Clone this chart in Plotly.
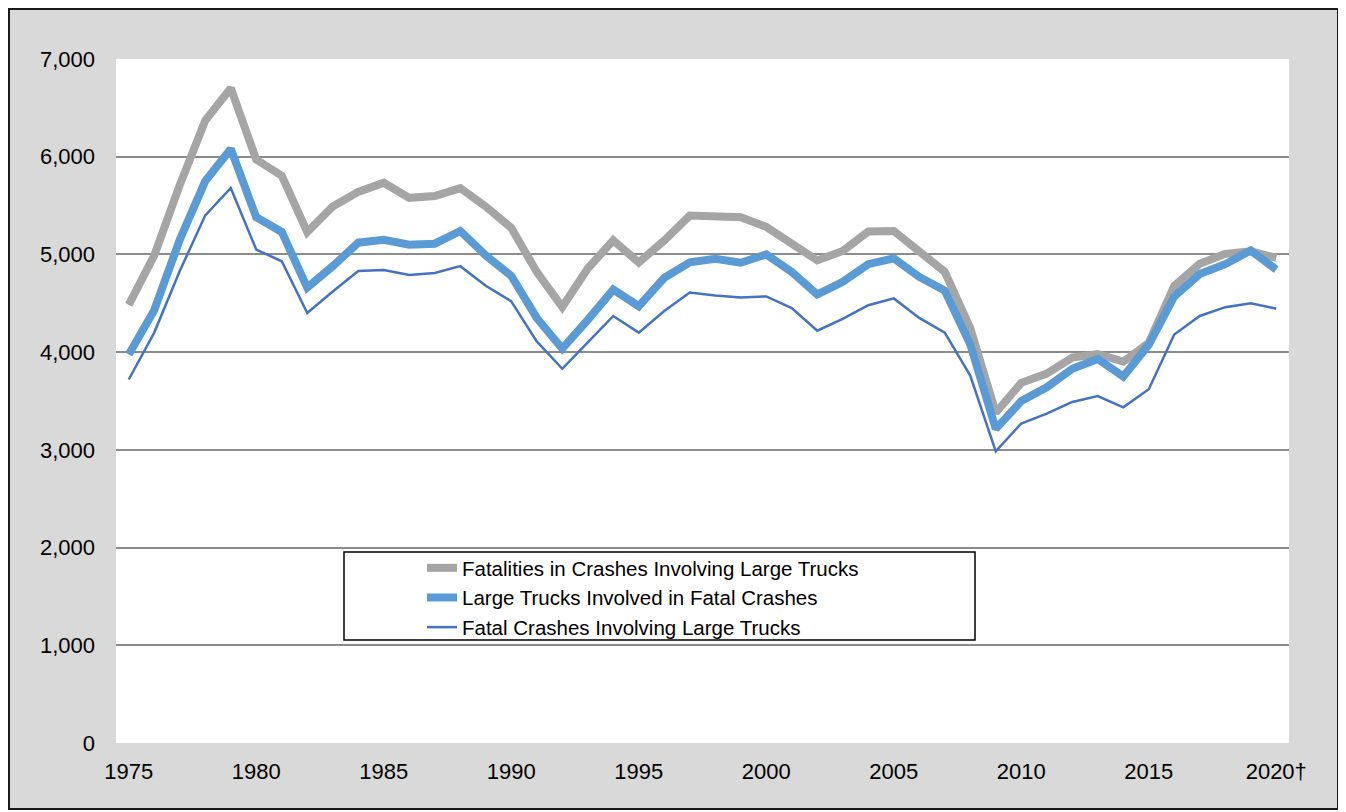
import plotly.graph_objects as go

years = list(range(1975, 2021))

fatalities = [
    4483, 4990, 5710, 6370, 6702, 5971, 5806, 5229, 5491, 5640,
    5734, 5579, 5598, 5679, 5490, 5272, 4821, 4462, 4856, 5144,
    4918, 5142, 5398, 5395, 5380, 5282, 5111, 4939, 5036, 5235,
    5240, 5027, 4822, 4245, 3380, 3686, 3781, 3944, 3981, 3903,
    4094, 4678, 4905, 5006, 5032, 4965,
]
trucks_involved = [
    3975, 4430, 5150, 5750, 6080, 5380, 5230, 4660, 4880, 5120,
    5150, 5100, 5110, 5240, 4990, 4780, 4350, 4035, 4330, 4640,
    4470, 4760, 4920, 4955, 4915, 5000, 4820, 4590, 4720, 4900,
    4960, 4770, 4630, 4080, 3215, 3500, 3640, 3830, 3930, 3750,
    4075, 4570, 4800, 4900, 5040, 4845,
]
fatal_crashes = [
    3720, 4200, 4830, 5400, 5680, 5050, 4930, 4400, 4620, 4830,
    4840, 4790, 4810, 4880, 4680, 4520, 4110, 3830, 4100, 4370,
    4200, 4420, 4610, 4580, 4560, 4570, 4450, 4220, 4340, 4480,
    4550, 4350, 4200, 3760, 2985, 3270, 3370, 3490, 3550, 3435,
    3620, 4180, 4370, 4460, 4500, 4445,
]

x_tick_vals = [1975, 1980, 1985, 1990, 1995, 2000, 2005, 2010, 2015, 2020]
x_tick_text = ["1975", "1980", "1985", "1990", "1995", "2000", "2005", "2010", "2015", "2020†"]
y_tick_vals = [0, 1000, 2000, 3000, 4000, 5000, 6000, 7000]

font = "Liberation Sans, Arial, sans-serif"

fig = go.Figure()
fig.add_trace(go.Scatter(
    x=years, y=fatalities, mode="lines",
    name="Fatalities in Crashes Involving Large Trucks",
    line=dict(color="#a5a5a5", width=8),
))
fig.add_trace(go.Scatter(
    x=years, y=trucks_involved, mode="lines",
    name="Large Trucks Involved in Fatal Crashes",
    line=dict(color="#5b9bd5", width=8),
))
fig.add_trace(go.Scatter(
    x=years, y=fatal_crashes, mode="lines",
    name="Fatal Crashes Involving Large Trucks",
    line=dict(color="#4472c4", width=2.5),
))

# the page body adds an 8px offset, so the figure is a bit smaller than the window
OFF = 8
W, H = 1346 - OFF, 812 - OFF
# plot area on screen: left 116, right 1289, top 59, bottom 743
ml, mt = 116 - OFF, 59 - OFF
mr, mb = W - (1289 - OFF), H - (743 - OFF)
pw, ph = W - ml - mr, H - mt - mb


def px_x(p):
    return (p - 116) / pw


def px_y(p):
    return (743 - p) / ph


# grey outer frame
fig.add_shape(
    type="rect", xref="paper", yref="paper", layer="below",
    x0=px_x(OFF + 1), x1=px_x(1338), y0=px_y(809), y1=px_y(OFF + 1),
    fillcolor="#d9d9d9", line=dict(color="#1a1a1a", width=2),
)
# white plot area
fig.add_shape(
    type="rect", xref="paper", yref="paper", layer="below",
    x0=0, x1=1, y0=0, y1=1, fillcolor="white", line=dict(width=0),
)
# legend box
fig.add_shape(
    type="rect", xref="paper", yref="paper",
    x0=px_x(344), x1=px_x(975), y0=px_y(640), y1=px_y(552),
    fillcolor="white", line=dict(color="black", width=1.5), layer="above",
)

fig.update_layout(
    width=W, height=H,
    margin=dict(l=ml, r=mr, t=mt, b=mb),
    paper_bgcolor="white",
    plot_bgcolor="white",
    font=dict(family=font, size=22, color="black"),
    showlegend=True,
    legend=dict(
        x=px_x(422), y=px_y(548), xanchor="left", yanchor="top",
        bgcolor="rgba(0,0,0,0)", borderwidth=0,
        font=dict(size=20.5), tracegroupgap=0,
    ),
    xaxis=dict(
        range=[1974.5, 2020.5], tickvals=x_tick_vals, ticktext=x_tick_text,
        showgrid=False, zeroline=False, showline=False, ticks="",
        ticklabelstandoff=13,
    ),
    yaxis=dict(
        range=[0, 7000], tickvals=y_tick_vals, tickformat=",d",
        showgrid=True, gridcolor="#8c8c8c", gridwidth=1.5,
        zeroline=False, showline=False, ticks="", ticklabelstandoff=20,
    ),
)

fig.write_html("out.html")
